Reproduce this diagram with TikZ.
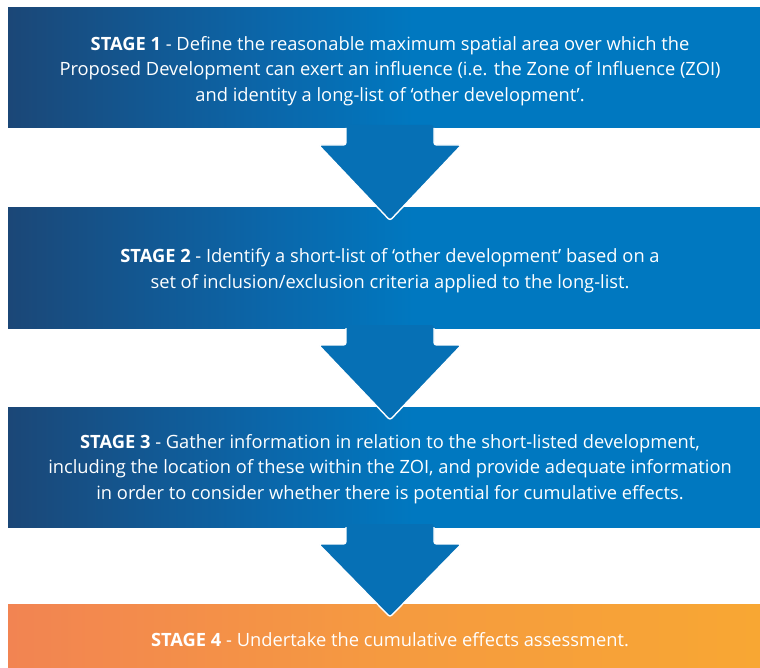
\documentclass[tikz,border=0pt]{standalone}
\usepackage{fontspec}
\setmainfont{Open Sans}
\usetikzlibrary{calc}

\definecolor{stageDark}{HTML}{1B4777}
\definecolor{stageMid}{HTML}{0B66A9}
\definecolor{stageBlue}{HTML}{0078C0}
\definecolor{arrowBlue}{HTML}{0670B5}
\definecolor{finalLeft}{HTML}{F28452}
\definecolor{finalMid}{HTML}{F59A40}
\definecolor{finalRight}{HTML}{F8A733}

% left-to-right fills; the path covers the 25bp--75bp band
\pgfdeclarehorizontalshading{bluestage}{100bp}{%
  color(0bp)=(stageDark); color(25bp)=(stageDark); color(42bp)=(stageMid);
  color(52bp)=(stageBlue); color(100bp)=(stageBlue)}
\pgfdeclarehorizontalshading{orangestage}{100bp}{%
  color(0bp)=(finalLeft); color(25bp)=(finalLeft); color(50bp)=(finalMid);
  color(75bp)=(finalRight); color(100bp)=(finalRight)}

% down arrow from the bottom of box #1 to the top of box #2
\newcommand\stagearrow[2]{%
  \fill[arrowBlue, rounded corners=2.5pt]
    ($(#1.south west)+(338,-3)$) -- ($(#1.south west)+(338,17)$)
    -- ($(#1.south west)+(310.5,17)$) -- ($(#2.north west)+(382,13)$)
    -- ($(#1.south west)+(453.5,17)$) -- ($(#1.south west)+(426,17)$)
    -- ($(#1.south west)+(426,-3)$) -- cycle;
  \draw[white, line width=1.4pt, rounded corners=2.5pt, line join=round]
    ($(#1.south west)+(338,0)$) -- ($(#1.south west)+(338,17)$)
    -- ($(#1.south west)+(310.5,17)$) -- ($(#2.north west)+(382,13)$)
    -- ($(#1.south west)+(453.5,17)$) -- ($(#1.south west)+(426,17)$)
    -- ($(#1.south west)+(426,0)$);
}

\begin{document}
\begin{tikzpicture}[x=1pt, y=-1pt,
  stagebox/.style={rectangle, inner sep=0pt, outer sep=0pt,
    minimum width=752pt, anchor=north west},
  bluebox/.style={stagebox, shading=bluestage},
  orangebox/.style={stagebox, shading=orangestage},
  stagetext/.style={text=white, align=center, inner sep=0pt,
    font=\fontsize{18.3}{25.5}\selectfont}]
\useasboundingbox (0,0) rectangle (760,668);

% stage boxes
\node[bluebox, minimum height=120pt] (b1) at (8,8) {};
\node[bluebox, minimum height=120.5pt] (b2) at (8,207.5) {};
\node[bluebox, minimum height=120pt] (b3) at (8,407) {};
\node[orangebox, minimum height=64pt] (b4) at (8,604) {};

% connecting arrows
\stagearrow{b1}{b2}
\stagearrow{b2}{b3}
\stagearrow{b3}{b4}

% stage descriptions
\node[stagetext] (t1) at ($(b1.center)+(6,3)$) {\textbf{STAGE 1} - Define the reasonable maximum spatial area over which the\\
Proposed Development can exert an influence (i.e. the Zone of Influence (ZOI)\\
and identity a long-list of ‘other development’.};
\node[stagetext] (t2) at ($(b2.center)+(6,3)$) {\textbf{STAGE 2} - Identify a short-list of ‘other development’ based on a\\
set of inclusion/exclusion criteria applied to the long-list.};
\node[stagetext] (t3) at ($(b3.center)+(6,2)$) {\textbf{STAGE 3} - Gather information in relation to the short-listed development,\\
including the location of these within the ZOI, and provide adequate information\\
in order to consider whether there is potential for cumulative effects.};
\node[stagetext] (t4) at ($(b4.center)+(6,4)$) {\textbf{STAGE 4} - Undertake the cumulative effects assessment.};
\end{tikzpicture}
\end{document}
